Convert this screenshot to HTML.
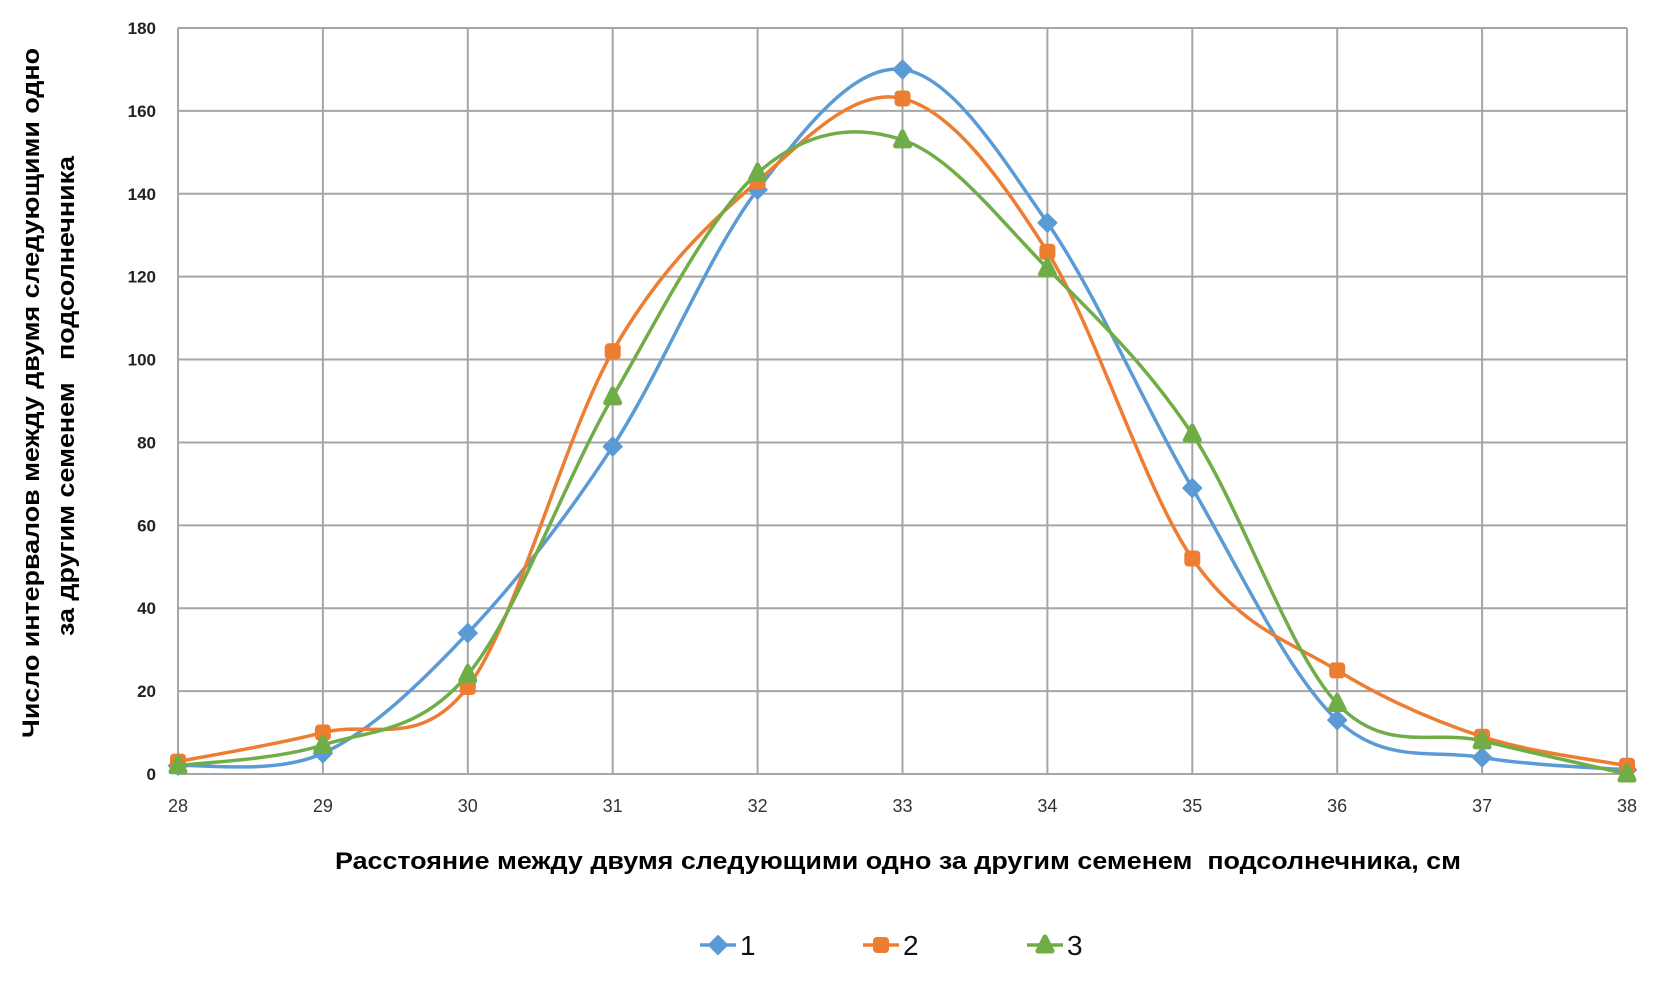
<!DOCTYPE html>
<html><head><meta charset="utf-8"><style>
body{margin:0;background:#fff;}
svg{display:block;font-family:"Liberation Sans",sans-serif;}
</style></head><body>
<svg id="chart" width="1654" height="981">
<g id="grid"></g>
<g id="yticks"></g>
<g id="xticks"></g>
<g id="series"></g>
<text transform="translate(39,393) rotate(-90)" text-anchor="middle" font-size="24" font-weight="bold" textLength="690" lengthAdjust="spacingAndGlyphs">Число интервалов между двумя следующими одно</text>
<text transform="translate(74,396) rotate(-90)" text-anchor="middle" font-size="24" font-weight="bold" textLength="480" lengthAdjust="spacingAndGlyphs" xml:space="preserve">за другим семенем   подсолнечника</text>
<text x="898" y="869" text-anchor="middle" font-size="24" font-weight="bold" textLength="1126" lengthAdjust="spacingAndGlyphs" xml:space="preserve">Расстояние между двумя следующими одно за другим семенем  подсолнечника, см</text>
<g id="legend"></g>
</svg>
<script>
const categories=[28,29,30,31,32,33,34,35,36,37,38];
const series1=[2,5,34,79,141,170,133,69,13,4,1];
const series2=[3,10,21,102,143,163,126,52,25,9,2];
const series3=[2,7,24,91,145,153,122,82,17,8,0];
const yTicks=[0,20,40,60,80,100,120,140,160,180];
const seriesNames=['1','2','3'];
const colors=['#5b9bd5','#ed7d31','#70ad47'];
const NS='http://www.w3.org/2000/svg';
const X0=178,X1=1627,Y0=774,Y1=28;
const xs=v=>X0+(v-categories[0])/(categories[categories.length-1]-categories[0])*(X1-X0);
const ys=v=>Y0-(v-yTicks[0])/(yTicks[yTicks.length-1]-yTicks[0])*(Y0-Y1);
function mk(tag,attrs,parent){const e=document.createElementNS(NS,tag);for(const k in attrs)e.setAttribute(k,attrs[k]);parent.appendChild(e);return e;}
const grid=document.getElementById('grid'),yt=document.getElementById('yticks'),xt=document.getElementById('xticks');
yTicks.forEach(t=>{
 const l=mk('line',{x1:X0,x2:X1,y1:ys(t),y2:ys(t),stroke:'#a6a6a6','stroke-width':2},grid);
 
 
 const tx=mk('text',{x:156,y:ys(t)+6,'text-anchor':'end','font-size':17,'font-weight':'bold',fill:'#222'},yt);
 tx.textContent=t;
 
 
});
categories.forEach(c=>{
 const l=mk('line',{x1:xs(c),x2:xs(c),y1:Y1,y2:Y0,stroke:'#a6a6a6','stroke-width':2},grid);
 
 
 const tx=mk('text',{x:xs(c),y:812,'text-anchor':'middle','font-size':18,fill:'#333'},xt);
 tx.textContent=c;
 
 
});
function marker(i,x,y,g){
 let e;
 if(i===0)e=mk('path',{d:`M${x} ${y-9}L${x+9} ${y}L${x} ${y+9}L${x-9} ${y}Z`,fill:colors[0],stroke:colors[0],'stroke-width':2,'stroke-linejoin':'round'},g);
 else if(i===1)e=mk('rect',{x:x-8,y:y-8,width:16,height:16,rx:4,fill:colors[1]},g);
 else e=mk('path',{d:`M${x} ${y-8}L${x+7} ${y+6}L${x-7} ${y+6}Z`,fill:colors[2],stroke:colors[2],'stroke-width':5,'stroke-linejoin':'round'},g);
 return e;
}
const sg=document.getElementById('series');
[series1,series2,series3].forEach((s,i)=>{
 const p=s.map((v,k)=>[xs(categories[k]),ys(v)]);
 let d=`M${p[0][0]} ${p[0][1]}`;
 for(let k=0;k<p.length-1;k++){
  const a=p[Math.max(k-1,0)],b=p[k],c=p[k+1],e=p[Math.min(k+2,p.length-1)];
  const c1=[b[0]+(c[0]-a[0])/6,b[1]+(c[1]-a[1])/6],c2=[c[0]-(e[0]-b[0])/6,c[1]-(e[1]-b[1])/6];
  d+=`C${c1[0]} ${c1[1]} ${c2[0]} ${c2[1]} ${c[0]} ${c[1]}`;
 }
 const path=mk('path',{d:d,fill:'none',stroke:colors[i],'stroke-width':3.5},sg);
 
 
 p.forEach(q=>{const m=marker(i,q[0],q[1],sg);
  
  });
});
const lg=document.getElementById('legend');
const lx=[700,863,1027];
seriesNames.forEach((n,i)=>{
 const g=mk('g',{},lg);
 
 
 mk('line',{x1:lx[i],x2:lx[i]+36,y1:945,y2:945,stroke:colors[i],'stroke-width':3.5},g);
 marker(i,lx[i]+18,945,g);
 const t=mk('text',{x:lx[i]+40,y:955,'font-size':28,fill:'#111'},g);
 t.textContent=n;
});
</script>
</body></html>
